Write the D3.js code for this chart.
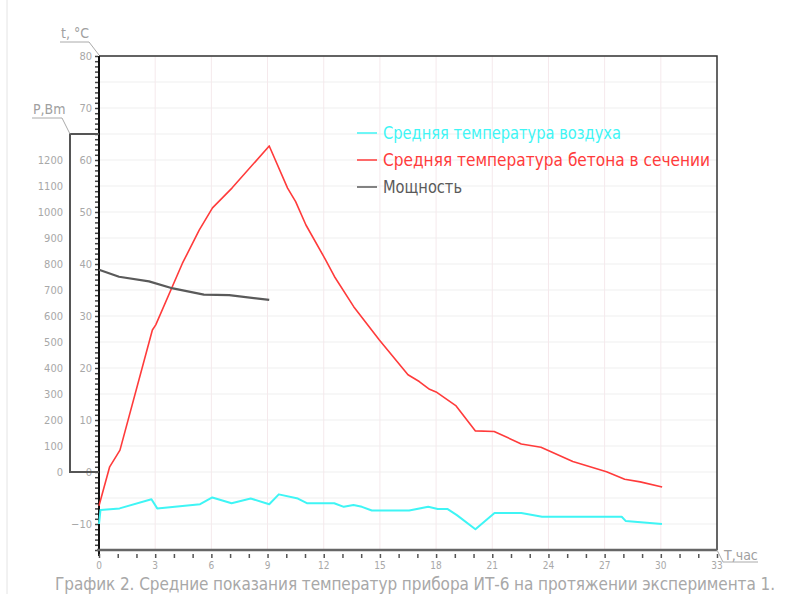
<!DOCTYPE html>
<html>
<head>
<meta charset="utf-8">
<script src="https://cdn.jsdelivr.net/npm/d3@7"></script>
<style>
  html, body { margin: 0; padding: 0; background: #fff; }
  svg { display: block; }
  text { font-family: "DejaVu Sans Condensed", "Liberation Sans Narrow", "DejaVu Sans", sans-serif; }
</style>
</head>
<body>
<svg id="chart" width="788" height="594"></svg>
<script>
// Hours since the start of the experiment, tick labels and axis ticks
const hourTicks = [0, 3, 6, 9, 12, 15, 18, 21, 24, 27, 30, 33];
const tempTicks = [-10, 0, 10, 20, 30, 40, 50, 60, 70, 80];
const powerTicks = [0, 100, 200, 300, 400, 500, 600, 700, 800, 900, 1000, 1100, 1200];

// Average air temperature, °C
const airHours = [0, 0.08, 1.1, 2.8, 3.11, 5.4, 6.05, 7.08, 8.1, 9.09, 9.6, 10.62, 11.1, 12.56, 13.07, 13.59, 14.04, 14.57, 16.56, 17.58, 18.09, 18.6, 19.11, 20.1, 21.12, 22.55, 23.66, 27.91, 28.12, 30.06];
const airTemp = [-10, -7.3, -7.0, -5.25, -7.0, -6.2, -4.9, -6.0, -5.1, -6.2, -4.3, -5.1, -6.0, -6.0, -6.7, -6.35, -6.7, -7.4, -7.4, -6.7, -7.1, -7.1, -8.3, -11.0, -7.9, -7.9, -8.6, -8.6, -9.4, -10.0];

// Average concrete temperature across the section, °C
const concreteHours = [0, 0.57, 1.12, 2.85, 3.03, 4.45, 5.35, 6.06, 7.1, 9.09, 10.07, 10.5, 11.05, 12.1, 12.57, 13.6, 14.97, 16.5, 17.1, 17.65, 18.0, 19.07, 20.1, 21.1, 22.55, 23.6, 25.3, 27.1, 28.07, 28.9, 30.07];
const concreteTemp = [-6.5, 1.0, 4.2, 27.3, 28.3, 40.1, 46.5, 50.8, 54.6, 62.7, 54.6, 52.0, 47.5, 40.8, 37.6, 31.8, 25.4, 18.7, 17.4, 15.9, 15.4, 12.7, 7.9, 7.8, 5.4, 4.75, 2.0, 0.06, -1.4, -1.9, -2.9];

// Heating power, W
const powerHours = [0, 1.07, 2.67, 3.95, 5.6, 6.95, 9.09];
const powerWatts = [778, 751, 733, 706, 682, 680, 662];

const legendLabels = ["Средняя температура воздуха", "Средняя температура бетона в сечении", "Мощность"];
const seriesColors = ["#3ff5f5", "#ff3b3b", "#5a5a5a"];
const caption = "График 2. Средние показания температур прибора ИТ-6 на протяжении эксперимента 1.";

const svg = d3.select("#chart");

const x = d3.scaleLinear().domain([0, 33]).range([99, 717]);
const y = d3.scaleLinear().domain([-15, 80]).range([550, 56]);
const yP = d3.scaleLinear().domain([0, 1200]).range([y(0), y(60)]);

// faint page edge
svg.append("line").attr("x1", 7).attr("x2", 7).attr("y1", 0).attr("y2", 594)
  .attr("stroke", "#e4e4e4").attr("stroke-width", 1);

// grid
const grid = svg.append("g");
grid.selectAll("line.h").data(d3.range(-15, 81, 5)).join("line")
  .attr("x1", x(0)).attr("x2", x(33))
  .attr("y1", d => y(d)).attr("y2", d => y(d))
  .attr("stroke", "#efefef").attr("stroke-width", 1);
grid.selectAll("line.v").data(hourTicks.slice(1, -1)).join("line")
  .attr("x1", d => x(d)).attr("x2", d => x(d))
  .attr("y1", y(80)).attr("y2", y(-15))
  .attr("stroke", "#f5e9ec").attr("stroke-width", 1);

// frame: top and right edges
svg.append("path")
  .attr("d", `M${x(0)},${y(80)}H${x(33)}V${y(-15)}`)
  .attr("fill", "none").attr("stroke", "#333").attr("stroke-width", 1.5);

// temperature axis
const tempAxis = d3.axisLeft(y).tickValues(d3.range(-15, 81, 1)).tickSize(3).tickFormat("");
const ta = svg.append("g").attr("transform", `translate(${x(0) - 1},0)`).call(tempAxis);
ta.select(".domain").remove();
ta.selectAll(".tick line").attr("stroke", "#444").attr("stroke-width", 1.5);
svg.append("line").attr("x1", x(0)).attr("x2", x(0)).attr("y1", y(80)).attr("y2", y(-15) + 6)
  .attr("stroke", "#111").attr("stroke-width", 2);
svg.append("g").selectAll("text").data(tempTicks).join("text")
  .attr("x", 92).attr("y", d => y(d) + 4).attr("text-anchor", "end")
  .attr("font-size", 11).attr("fill", "#a8a8a8")
  .text(d => d < 0 ? "−" + Math.abs(d) : d);

// power axis box
svg.append("path")
  .attr("d", `M${x(0)},${yP(1300)}H70V${yP(0)}H${x(0)}`)
  .attr("fill", "none").attr("stroke", "#555").attr("stroke-width", 2);
svg.append("g").selectAll("text").data(powerTicks).join("text")
  .attr("x", 63).attr("y", d => yP(d) + 4).attr("text-anchor", "end")
  .attr("font-size", 11).attr("fill", "#a8a8a8")
  .text(d => d);

// axis captions with leaders
svg.append("path").attr("d", `M60,42H89L${x(0)},${y(80) - 1}`)
  .attr("fill", "none").attr("stroke", "#aaa").attr("stroke-width", 1);
svg.append("text").attr("x", 61).attr("y", 38).attr("font-size", 14).attr("fill", "#a0a0a0").text("t, °C");
svg.append("path").attr("d", `M32,118H62L70,${yP(1300)}`)
  .attr("fill", "none").attr("stroke", "#aaa").attr("stroke-width", 1);
svg.append("text").attr("x", 33).attr("y", 114).attr("font-size", 14).attr("fill", "#a0a0a0").text("P,Bm");

// time axis
svg.append("line").attr("x1", x(0) - 2).attr("x2", x(33)).attr("y1", y(-15)).attr("y2", y(-15))
  .attr("stroke", "#666").attr("stroke-width", 2.5);
const timeAxis = d3.axisBottom(x).tickValues(d3.range(0, 34, 1)).tickSize(4).tickFormat("");
const tx = svg.append("g").attr("transform", `translate(0,${y(-15) + 4})`).call(timeAxis);
tx.select(".domain").remove();
tx.selectAll(".tick line").attr("stroke", "#555").attr("stroke-width", 1.5);
svg.append("g").selectAll("text").data(hourTicks).join("text")
  .attr("x", d => x(d)).attr("y", 569).attr("text-anchor", "middle")
  .attr("font-size", 10).attr("fill", "#a8a8a8").text(d => d);
svg.append("path").attr("d", `M${x(33)},${y(-15)}L723,562H758`)
  .attr("fill", "none").attr("stroke", "#aaa").attr("stroke-width", 1);
svg.append("text").attr("x", 724).attr("y", 560).attr("font-size", 14).attr("fill", "#a0a0a0").text("T,час");

// series
const line = d3.line();
function drawSeries(hours, values, scale, color, width) {
  svg.append("path")
    .attr("d", line(hours.map((h, i) => [x(h), scale(values[i])])))
    .attr("fill", "none").attr("stroke", color).attr("stroke-width", width)
    .attr("stroke-linejoin", "round");
}
drawSeries(airHours, airTemp, y, seriesColors[0], 2);
drawSeries(concreteHours, concreteTemp, y, seriesColors[1], 1.6);
drawSeries(powerHours, powerWatts, yP, seriesColors[2], 2.2);

// legend
const legend = svg.append("g");
const legendWidths = [238, 327, 79];
legendLabels.forEach((lab, i) => {
  const ly = 133 + i * 27;
  legend.append("line").attr("x1", 357).attr("x2", 377).attr("y1", ly).attr("y2", ly)
    .attr("stroke", seriesColors[i]).attr("stroke-width", 1.5);
  legend.append("text").attr("x", 383).attr("y", ly + 6)
    .attr("font-size", 17).attr("fill", seriesColors[i])
    .attr("textLength", legendWidths[i]).attr("lengthAdjust", "spacingAndGlyphs")
    .text(lab);
});

// caption
svg.append("text").attr("x", 55).attr("y", 590)
  .attr("font-size", 17).attr("fill", "#a8a8a8")
  .attr("textLength", 720).attr("lengthAdjust", "spacing")
  .text(caption);
</script>
</body>
</html>
